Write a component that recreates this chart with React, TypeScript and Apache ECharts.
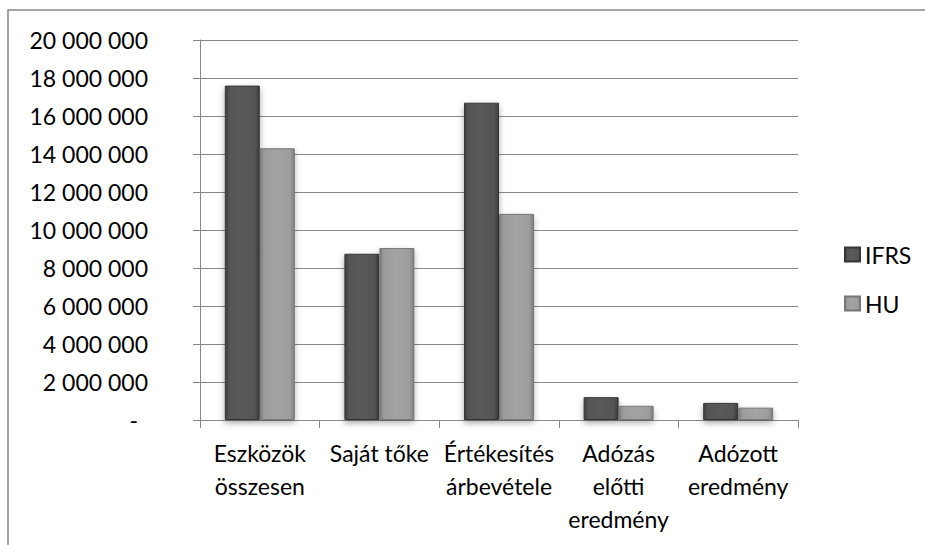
import React, { useEffect, useRef } from "react";
import * as echarts from "echarts";

const categories = [
  "Eszközök\nösszesen",
  "Saját tőke",
  "Értékesítés\nárbevétele",
  "Adózás\nelőtti\neredmény",
  "Adózott\neredmény",
];
const seriesNames = ["IFRS", "HU"];
const ifrsValues = [17600000, 8750000, 16700000, 1200000, 900000];
const huValues = [14300000, 9050000, 10850000, 750000, 650000];
const yMin = 0;
const yMax = 20000000;
const yInterval = 2000000;

const FONT = "Lato";
const FS = 23;

function fmt(v: number): string {
  return String(Math.round(v)).replace(/\B(?=(\d{3})+(?!\d))/g, " ");
}

function barGradient(edge: string, mid: string, center: string) {
  return new echarts.graphic.LinearGradient(0, 0, 1, 0, [
    { offset: 0, color: edge },
    { offset: 0.12, color: mid },
    { offset: 0.5, color: center },
    { offset: 0.88, color: mid },
    { offset: 1, color: edge },
  ]);
}

export default function App() {
  const ref = useRef<HTMLDivElement>(null);
  useEffect(() => {
    if (!ref.current) return;
    const chart = echarts.init(ref.current, null, { renderer: "svg" });
    const gridColor = "#878787";
    chart.setOption({
      animation: false,
      backgroundColor: "#ffffff",
      textStyle: { fontFamily: FONT },
      graphic: [
        {
          type: "rect",
          shape: { x: 8, y: 10, width: 1000, height: 700 },
          style: { fill: "none", stroke: gridColor, lineWidth: 1.5 },
          silent: true,
          z: -1,
        },
      ],
      grid: { left: 200, right: 127, top: 40, bottom: 125, containLabel: false },
      legend: {
        orient: "vertical",
        left: 839,
        top: 238,
        itemWidth: 15,
        itemHeight: 14,
        itemGap: 26,
        icon: "rect",
        data: seriesNames,
        textStyle: { fontFamily: FONT, fontSize: FS, color: "#000" },
      },
      xAxis: {
        type: "category",
        data: categories,
        axisLine: { show: true, lineStyle: { color: gridColor, width: 1 } },
        axisTick: { show: true, length: 8, lineStyle: { color: gridColor } },
        axisLabel: {
          interval: 0,
          margin: 16,
          fontFamily: FONT,
          fontSize: FS,
          lineHeight: 33,
          color: "#000",
        },
      },
      yAxis: {
        type: "value",
        min: yMin,
        max: yMax,
        interval: yInterval,
        axisLine: { show: true, lineStyle: { color: gridColor, width: 1 } },
        axisTick: { show: true, length: 7, lineStyle: { color: gridColor } },
        splitLine: { show: true, lineStyle: { color: gridColor, width: 1 } },
        axisLabel: {
          margin: 52,
          fontFamily: FONT,
          fontSize: FS,
          color: "#000",
          formatter: (v: number) => (v === 0 ? "{d|-}" : "{n|" + fmt(v) + "}"),
          rich: {
            d: { fontFamily: FONT, fontSize: FS, color: "#000", padding: [0, 10, 0, 0] },
            n: { fontFamily: FONT, fontSize: FS, color: "#000" },
          },
        },
      },
      series: [
        {
          name: seriesNames[0],
          type: "bar",
          data: ifrsValues,
          barWidth: 35,
          barGap: "0%",
          itemStyle: {
            color: barGradient("#3e3e3e", "#545454", "#5a5a5a"),
            borderColor: "#363636",
            borderWidth: 1,
            shadowBlur: 6,
            shadowColor: "rgba(0,0,0,0.35)",
            shadowOffsetY: 3,
          },
        },
        {
          name: seriesNames[1],
          type: "bar",
          data: huValues,
          barWidth: 35,
          barGap: "0%",
          itemStyle: {
            color: barGradient("#7e7e7e", "#9c9c9c", "#a4a4a4"),
            borderColor: "#777777",
            borderWidth: 1,
            shadowBlur: 6,
            shadowColor: "rgba(0,0,0,0.3)",
            shadowOffsetY: 3,
          },
        },
      ],
    });
    return () => chart.dispose();
  }, []);
  return (
    <div
      ref={ref}
      style={{ position: "fixed", left: 0, top: 0, width: 925, height: 545 }}
    />
  );
}
